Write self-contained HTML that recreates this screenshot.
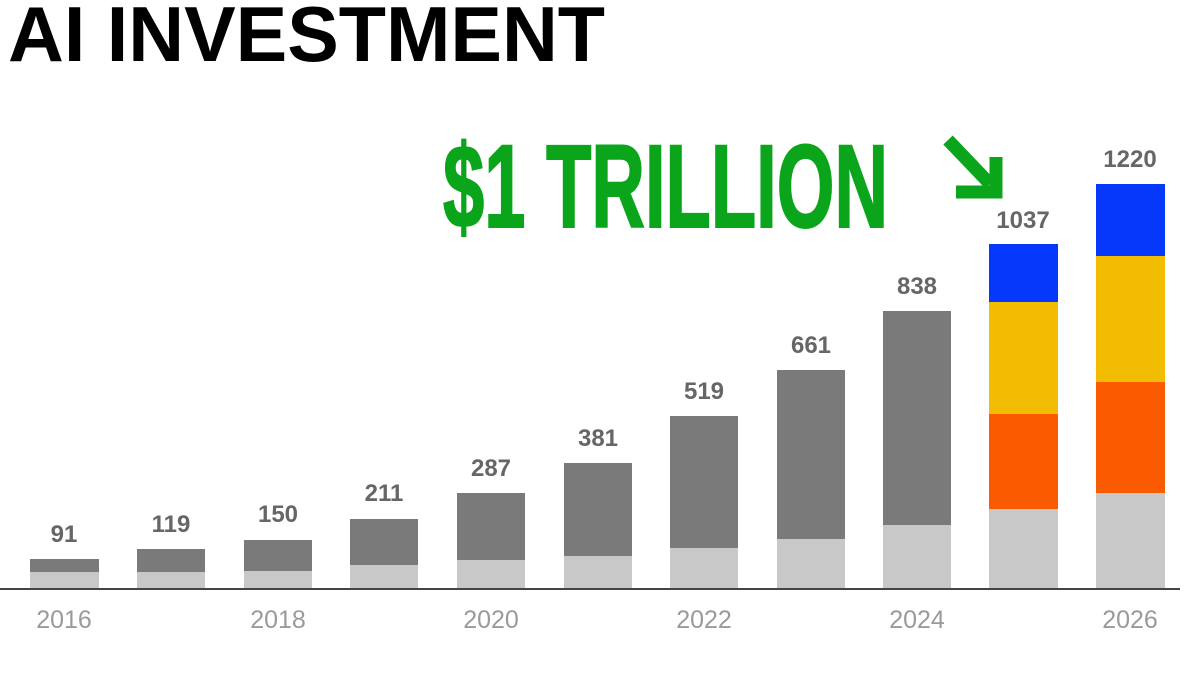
<!DOCTYPE html>
<html><head><style>html,body{margin:0;padding:0;background:#fff;width:1200px;height:675px;overflow:hidden}</style></head>
<body>
<svg width="1200" height="675" viewBox="0 0 1200 675" xmlns="http://www.w3.org/2000/svg">
<rect width="1200" height="675" fill="#fff"/>
<text x="8" y="61" font-family="Liberation Sans, sans-serif" font-weight="bold" font-size="78" fill="#000" textLength="597" lengthAdjust="spacingAndGlyphs">AI INVESTMENT</text>
<text x="443" y="227" font-family="Liberation Sans Narrow, Liberation Sans, sans-serif" font-weight="bold" font-size="118" fill="#0aa51a" stroke="#0aa51a" stroke-width="2" textLength="445" lengthAdjust="spacingAndGlyphs">$1 TRILLION</text>
<g stroke="#0aa51a" stroke-width="13" fill="none" stroke-linecap="butt">
<line x1="948" y1="140" x2="990" y2="184"/>
<polyline points="956,192 996,192 996,157" stroke-linejoin="miter"/>
</g>
<g font-family="Liberation Sans, sans-serif" font-weight="bold" font-size="24" fill="#666" text-anchor="middle">
<rect x="30" y="559" width="69" height="29" fill="#7a7a7a"/><rect x="30" y="572" width="69" height="16" fill="#c8c8c8"/><text x="64" y="542">91</text>
<rect x="137" y="549" width="68" height="39" fill="#7a7a7a"/><rect x="137" y="572" width="68" height="16" fill="#c8c8c8"/><text x="171" y="532">119</text>
<rect x="244" y="540" width="68" height="48" fill="#7a7a7a"/><rect x="244" y="571" width="68" height="17" fill="#c8c8c8"/><text x="278" y="522">150</text>
<rect x="350" y="519" width="68" height="69" fill="#7a7a7a"/><rect x="350" y="565" width="68" height="23" fill="#c8c8c8"/><text x="384" y="501">211</text>
<rect x="457" y="493" width="68" height="95" fill="#7a7a7a"/><rect x="457" y="560" width="68" height="28" fill="#c8c8c8"/><text x="491" y="476">287</text>
<rect x="564" y="463" width="68" height="125" fill="#7a7a7a"/><rect x="564" y="556" width="68" height="32" fill="#c8c8c8"/><text x="598" y="446">381</text>
<rect x="670" y="416" width="68" height="172" fill="#7a7a7a"/><rect x="670" y="548" width="68" height="40" fill="#c8c8c8"/><text x="704" y="399">519</text>
<rect x="777" y="370" width="68" height="218" fill="#7a7a7a"/><rect x="777" y="539" width="68" height="49" fill="#c8c8c8"/><text x="811" y="353">661</text>
<rect x="883" y="311" width="68" height="277" fill="#7a7a7a"/><rect x="883" y="525" width="68" height="63" fill="#c8c8c8"/><text x="917" y="294">838</text>
<rect x="989" y="244" width="69" height="58" fill="#0638fb"/><rect x="989" y="302" width="69" height="112" fill="#f2bd00"/><rect x="989" y="414" width="69" height="95" fill="#fa5a00"/><rect x="989" y="509" width="69" height="79" fill="#c8c8c8"/><text x="1023" y="228">1037</text>
<rect x="1096" y="184" width="69" height="72" fill="#0638fb"/><rect x="1096" y="256" width="69" height="126" fill="#f2bd00"/><rect x="1096" y="382" width="69" height="111" fill="#fa5a00"/><rect x="1096" y="493" width="69" height="95" fill="#c8c8c8"/><text x="1130" y="167">1220</text>
</g>
<line x1="0" y1="589" x2="1180" y2="589" stroke="#444" stroke-width="2"/>
<g font-family="Liberation Sans, sans-serif" font-size="25" fill="#9a9a9a" text-anchor="middle">
<text x="64" y="628">2016</text><text x="278" y="628">2018</text><text x="491" y="628">2020</text><text x="704" y="628">2022</text><text x="917" y="628">2024</text><text x="1130" y="628">2026</text>
</g>
</svg>
</body></html>
